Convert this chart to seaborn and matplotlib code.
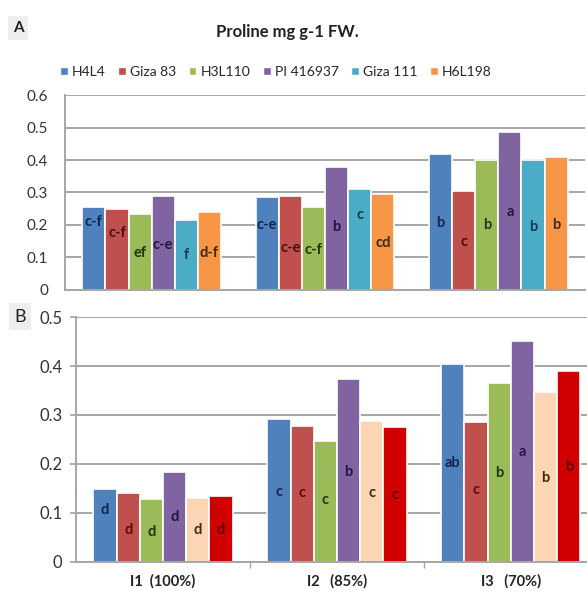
import matplotlib
matplotlib.use('Agg')
import matplotlib.pyplot as plt
from matplotlib.patches import Patch
import seaborn as sns
import pandas as pd

#---data
groups = ['I1  (100%)', 'I2   (85%)', 'I3   (70%)']
varieties = ['H4L4', 'Giza 83', 'H3L110', 'PI 416937', 'Giza 111', 'H6L198']

#-panel A (proline, one list per variety, values for I1/I2/I3)
a_h4l4 = [0.256, 0.285, 0.420]
a_giza83 = [0.249, 0.289, 0.305]
a_h3l110 = [0.234, 0.254, 0.400]
a_pi416937 = [0.289, 0.379, 0.485]
a_giza111 = [0.214, 0.310, 0.400]
a_h6l198 = [0.239, 0.294, 0.410]
a_letters = [['c-f', 'c-e', 'b'], ['c-f', 'c-e', 'c'], ['ef', 'c-f', 'b'],
             ['c-e', 'b', 'a'], ['f', 'c', 'b'], ['d-f', 'cd', 'b']]
a_letter_y = [[0.21, 0.20, 0.205], [0.175, 0.13, 0.148], [0.114, 0.123, 0.20],
              [0.138, 0.195, 0.24], [0.108, 0.23, 0.195], [0.114, 0.145, 0.20]]

#-panel B
b_h4l4 = [0.148, 0.291, 0.405]
b_giza83 = [0.141, 0.277, 0.286]
b_h3l110 = [0.128, 0.247, 0.365]
b_pi416937 = [0.184, 0.374, 0.451]
b_giza111 = [0.131, 0.287, 0.347]
b_h6l198 = [0.134, 0.275, 0.390]
b_letters = [['d', 'c', 'ab'], ['d', 'c', 'c'], ['d', 'c', 'b'],
             ['d', 'b', 'a'], ['d', 'c', 'b'], ['d', 'c', 'b']]
b_letter_y = [[0.106, 0.143, 0.201], [0.065, 0.14, 0.147], [0.061, 0.126, 0.182],
              [0.092, 0.184, 0.225], [0.065, 0.14, 0.172], [0.065, 0.136, 0.194]]

pal_a = ['#4F81BD', '#C0504D', '#9BBB59', '#8064A2', '#4BACC6', '#F79646']
pal_b = ['#4F81BD', '#C0504D', '#9BBB59', '#8064A2', '#FCD5B5', '#D00000']
txt_a = ['#14254f', '#4a0f0f', '#1d360c', '#231440', '#0e3a55', '#3d2a10']
txt_b = ['#14254f', '#5a0b0b', '#1d360c', '#231440', '#3d2a10', '#5a0000']


def long_df(cols):
    rows = []
    for name, vals in zip(varieties, cols):
        for g, v in zip(groups, vals):
            rows.append({'group': g, 'variety': name, 'value': v})
    return pd.DataFrame(rows)


df_a = long_df([a_h4l4, a_giza83, a_h3l110, a_pi416937, a_giza111, a_h6l198])
df_b = long_df([b_h4l4, b_giza83, b_h3l110, b_pi416937, b_giza111, b_h6l198])

sns.set_theme(style='white')
plt.rcParams['font.family'] = ['Lato', 'DejaVu Sans']

fig = plt.figure(figsize=(5.87, 5.95), dpi=100)
ax_a = fig.add_axes([0.1107, 0.513, 0.886, 0.327])
ax_b = fig.add_axes([0.1295, 0.056, 0.889, 0.411])

grid_col = '#a6a6a6'


def draw(ax, df, pal, letters, letter_y, txt_cols):
    sns.barplot(data=df, x='group', y='value', hue='variety', palette=pal,
                saturation=1, width=0.8, edgecolor='white', linewidth=1.2,
                legend=False, ax=ax)
    ax.set_xlim(-0.5, 2.5)
    ax.set_axisbelow(True)
    ax.yaxis.grid(True, color=grid_col, lw=1.4)
    ax.set_xlabel('')
    ax.set_ylabel('')
    for sp in ['top', 'right']:
        ax.spines[sp].set_visible(False)
    for sp in ['left', 'bottom']:
        ax.spines[sp].set_color(grid_col)
        ax.spines[sp].set_linewidth(1.4)
    for i, cont in enumerate(ax.containers):
        for j, bar in enumerate(cont):
            x = bar.get_x() + bar.get_width() / 2
            ax.text(x, letter_y[i][j], letters[i][j], ha='center', va='center',
                    fontsize=10.5, fontweight='bold', color=txt_cols[i])


#-panel A
draw(ax_a, df_a, pal_a, a_letters, a_letter_y, txt_a)
ax_a.set_ylim(0, 0.6)
ax_a.set_yticks([0, 0.1, 0.2, 0.3, 0.4, 0.5, 0.6])
ax_a.set_yticklabels(['0', '0.1', '0.2', '0.3', '0.4', '0.5', '0.6'])
ax_a.set_xticks([])
ax_a.tick_params(axis='y', length=0, pad=12, labelsize=11, labelcolor='#333333')

#-panel B
draw(ax_b, df_b, pal_b, b_letters, b_letter_y, txt_b)
ax_b.set_ylim(0, 0.5)
ax_b.set_yticks([0, 0.1, 0.2, 0.3, 0.4, 0.5])
ax_b.set_yticklabels(['0', '0.1', '0.2', '0.3', '0.4', '0.5'])
ax_b.set_xticks([0, 1, 2])
ax_b.set_xticklabels(groups, fontweight='bold')
ax_b.set_xticks([0.5, 1.5], minor=True)
ax_b.tick_params(axis='y', left=True, length=4, color=grid_col, pad=6,
                 labelsize=12, labelcolor='#333333')
ax_b.tick_params(axis='x', which='major', length=0, pad=9, labelsize=10.5,
                 labelcolor='#222222')
ax_b.tick_params(axis='x', which='minor', bottom=True, length=4, color=grid_col)

#-title, legend and panel letters
fig.text(0.489, 0.946, 'Proline mg g-1 FW.', ha='center', va='center',
         fontsize=12, fontweight='bold', color='#222222')
handles = [Patch(facecolor=c, label=v) for c, v in zip(pal_a, varieties)]
fig.legend(handles=handles, loc='center', bbox_to_anchor=(0.47, 0.879), ncol=6,
           frameon=False, fontsize=10, handlelength=0.55, handleheight=0.55,
           handletextpad=0.3, columnspacing=0.9, borderaxespad=0)
box = dict(boxstyle='square,pad=0.3', facecolor='#eeeeee', edgecolor='none')
fig.text(0.031, 0.953, 'A', ha='center', va='center', fontsize=11,
         fontweight='bold', color='#222222', bbox=box)
fig.text(0.034, 0.468, 'B', ha='center', va='center', fontsize=13,
         color='#222222', bbox=box)

plt.savefig('out.png', dpi=100)
